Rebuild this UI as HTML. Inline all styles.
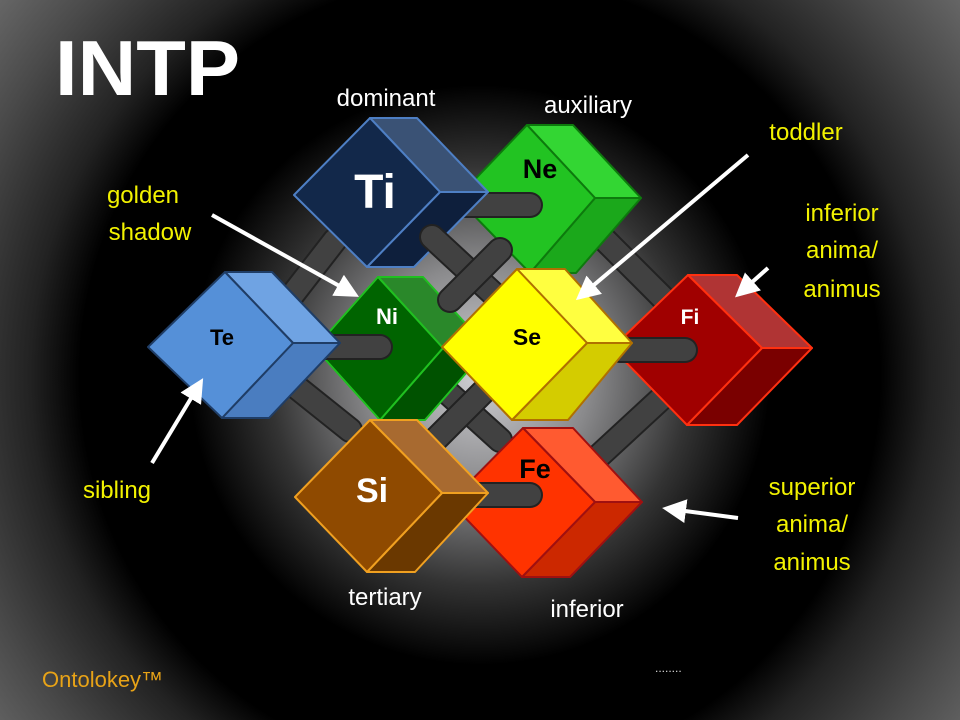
<!DOCTYPE html>
<html><head><meta charset="utf-8"><style>
html,body{margin:0;padding:0}
body{width:960px;height:720px;overflow:hidden;font-family:"Liberation Sans",sans-serif;
background:radial-gradient(circle 700px at 480px 375px,#d0d0d4 0,#8a8a8c 110px,#333 210px,#000 290px,#000 400px,#222 450px,#4a4a4a 540px,#6a6a6a 620px,#777 700px);}
svg{position:absolute;left:0;top:0}
</style></head><body>
<svg width="960" height="720" viewBox="0 0 960 720" font-family="Liberation Sans, sans-serif">
<defs><marker id="ah" markerWidth="6" markerHeight="6" refX="4" refY="3" orient="auto" markerUnits="strokeWidth"><path d="M0,0 L6,3 L0,6 z" fill="#fff"/></marker></defs>
<text x="55" y="95" fill="#fff" font-size="78" font-weight="bold" textLength="185" lengthAdjust="spacingAndGlyphs">INTP</text>
<g fill="#fff" font-size="24" text-anchor="middle">
<text x="386" y="106">dominant</text><text x="588" y="113">auxiliary</text>
<text x="385" y="605">tertiary</text><text x="587" y="617">inferior</text>
</g>
<g fill="#f2f200" font-size="24" text-anchor="middle">
<text x="806" y="140">toddler</text>
<text x="143" y="203">golden</text><text x="150" y="240">shadow</text>
<text x="842" y="221">inferior</text><text x="842" y="258">anima/</text><text x="842" y="297">animus</text>
<text x="117" y="498">sibling</text>
<text x="812" y="495">superior</text><text x="812" y="532">anima/</text><text x="812" y="570">animus</text>
</g>
<text x="42" y="687" fill="#e8a317" font-size="22">Ontolokey™</text>
<text x="655" y="672" fill="#ddd" font-size="12">........</text>
<g stroke-linecap="round">
<g stroke="#222" stroke-width="26">
<line x1="290" y1="298" x2="335" y2="240"/><line x1="285" y1="378" x2="350" y2="430"/>
<line x1="605" y1="240" x2="665" y2="300"/>
<line x1="600" y1="455" x2="665" y2="395"/>
<line x1="447" y1="392" x2="500" y2="440"/>
</g>
<g stroke="#414141" stroke-width="22">
<line x1="290" y1="298" x2="335" y2="240"/><line x1="285" y1="378" x2="350" y2="430"/>
<line x1="605" y1="240" x2="665" y2="300"/>
<line x1="600" y1="455" x2="665" y2="395"/>
<line x1="447" y1="392" x2="500" y2="440"/>
</g>
</g>
<g stroke="#0d7a0d" stroke-width="2" stroke-linejoin="round">
<polygon points="527,125 573,125 641,198 595,198" fill="#33d633"/>
<polygon points="595,198 641,198 576,273 530,273" fill="#1ba81b"/>
<polygon points="457,198 527,125 595,198 530,273" fill="#22c322"/>
</g>
<line x1="440" y1="205" x2="530" y2="205" stroke="#222" stroke-width="26" stroke-linecap="round"/>
<line x1="440" y1="205" x2="530" y2="205" stroke="#414141" stroke-width="22" stroke-linecap="round"/>
<g stroke="#ff3010" stroke-width="2" stroke-linejoin="round">
<polygon points="688,275 737,275 812,348 762,348" fill="#b03434"/>
<polygon points="762,348 812,348 737,425 687,425" fill="#7a0000"/>
<polygon points="612,348 688,275 762,348 687,425" fill="#a00000"/>
</g>
<line x1="620" y1="350" x2="685" y2="350" stroke="#222" stroke-width="26" stroke-linecap="round"/>
<line x1="620" y1="350" x2="685" y2="350" stroke="#414141" stroke-width="22" stroke-linecap="round"/>
<g stroke="#4e7fc4" stroke-width="2" stroke-linejoin="round">
<polygon points="370,118 417,118 488,192 440,192" fill="#3a5275"/>
<polygon points="440,192 488,192 414,267 367,267" fill="#0e1f3c"/>
<polygon points="294,195 370,118 440,192 367,267" fill="#12284a"/>
</g>
<g stroke="#20c020" stroke-width="2" stroke-linejoin="round">
<polygon points="378,277 423,277 488,348 443,348" fill="#2a882a"/>
<polygon points="443,348 488,348 425,420 380,420" fill="#005200"/>
<polygon points="315,348 378,277 443,348 380,420" fill="#006400"/>
</g>
<line x1="320" y1="347" x2="380" y2="347" stroke="#222" stroke-width="26" stroke-linecap="round"/>
<line x1="320" y1="347" x2="380" y2="347" stroke="#414141" stroke-width="22" stroke-linecap="round"/>
<g stroke-linecap="round">
<line x1="432" y1="237" x2="500" y2="300" stroke="#222" stroke-width="26"/><line x1="432" y1="237" x2="500" y2="300" stroke="#414141" stroke-width="22"/>
<line x1="450" y1="300" x2="500" y2="250" stroke="#222" stroke-width="26"/><line x1="450" y1="300" x2="500" y2="250" stroke="#414141" stroke-width="22"/>
<line x1="430" y1="445" x2="485" y2="390" stroke="#222" stroke-width="26"/><line x1="430" y1="445" x2="485" y2="390" stroke="#414141" stroke-width="22"/>
</g>
<g stroke="#1f3d66" stroke-width="2" stroke-linejoin="round">
<polygon points="225,272 272,272 340,343 293,343" fill="#6fa3e3"/>
<polygon points="293,343 340,343 269,418 222,418" fill="#4a7dc0"/>
<polygon points="148,347 225,272 293,343 222,418" fill="#5590d8"/>
</g>
<g stroke="#b07000" stroke-width="2" stroke-linejoin="round">
<polygon points="517,269 565,269 632,343 587,343" fill="#ffff40"/>
<polygon points="587,343 632,343 568,420 512,420" fill="#d4cc00"/>
<polygon points="442,347 517,269 587,343 512,420" fill="#ffff00"/>
</g>
<g stroke="#a01010" stroke-width="2" stroke-linejoin="round">
<polygon points="523,428 573,428 642,502 595,502" fill="#ff5a30"/>
<polygon points="595,502 642,502 570,577 522,577" fill="#cc2800"/>
<polygon points="450,502 523,428 595,502 522,577" fill="#ff3300"/>
</g>
<line x1="470" y1="495" x2="530" y2="495" stroke="#222" stroke-width="26" stroke-linecap="round"/>
<line x1="470" y1="495" x2="530" y2="495" stroke="#414141" stroke-width="22" stroke-linecap="round"/>
<g stroke="#f0a020" stroke-width="2" stroke-linejoin="round">
<polygon points="370,420 417,420 488,493 442,493" fill="#a86a30"/>
<polygon points="442,493 488,493 415,572 367,572" fill="#6a3800"/>
<polygon points="295,497 370,420 442,493 367,572" fill="#8f4a00"/>
</g>
<g font-weight="bold" text-anchor="middle">
<text x="375" y="208" fill="#fff" font-size="48">Ti</text>
<text x="540" y="178" fill="#000" font-size="27">Ne</text>
<text x="222" y="345" fill="#000" font-size="22">Te</text>
<text x="387" y="324" fill="#fff" font-size="22">Ni</text>
<text x="527" y="345" fill="#000" font-size="23">Se</text>
<text x="690" y="324" fill="#fff" font-size="21">Fi</text>
<text x="372" y="502" fill="#fff" font-size="34">Si</text>
<text x="535" y="478" fill="#000" font-size="27">Fe</text>
</g>
<g stroke="#fff" stroke-width="4" marker-end="url(#ah)">
<line x1="212" y1="215" x2="352" y2="293"/>
<line x1="748" y1="155" x2="582" y2="295"/>
<line x1="768" y1="268" x2="741" y2="292"/>
<line x1="152" y1="463" x2="199" y2="385"/>
<line x1="738" y1="518" x2="670" y2="509"/>
</g>
</svg>
</body></html>
